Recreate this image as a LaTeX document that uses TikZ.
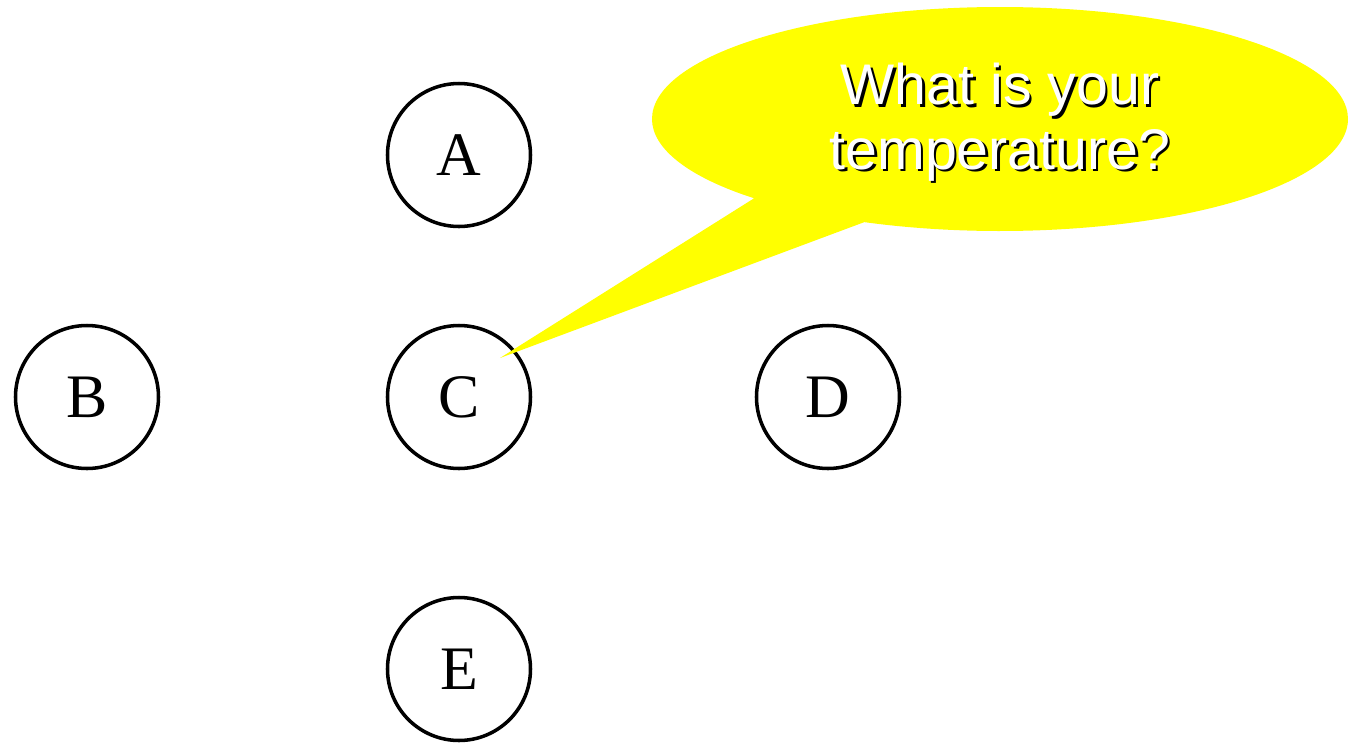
\documentclass[tikz,border=0pt]{standalone}
\usepackage{fontspec}
\setmainfont{Liberation Serif}
\newfontfamily\bubblefont{Liberation Sans}
\usetikzlibrary{calc,shapes.callouts}
\usepackage{xcolor}
\definecolor{bubbleyellow}{RGB}{255,255,0}

% white text with a small black drop shadow
\newcommand{\shadowtxt}[1]{%
  \makebox[0pt][l]{\kern0.7pt\raisebox{-0.7pt}{\color{black}#1}}{\color{white}#1}}

\tikzset{
  vertex/.style={draw, circle, line width=1pt, minimum size=1.43cm, inner sep=0pt,
    font=\fontsize{17.6}{20}\selectfont},
  talk/.style={ellipse callout, fill=bubbleyellow, draw=none, callout pointer arc=22,
    inner sep=0pt, align=center, font=\bubblefont\fontsize{16.3}{18.4}\selectfont}
}

\begin{document}
\begin{tikzpicture}
        \useasboundingbox (0,0) rectangle (13.61,-7.47);
        \node (c) [vertex] at (4.59,-3.97) {C};
        \node (a) [vertex, above of=c, node distance=2.42cm] {A};
        \node (b) [vertex, left of=c, node distance=3.72cm] {B};
        \node (d) [vertex, right of=c, node distance=3.69cm] {D};
        \node (e) [vertex, below of=c, node distance=2.72cm] {E};

        \node (bubble) [talk, minimum width=6.96cm, minimum height=2.24cm,
          callout absolute pointer={($(c)+(0.41,0.39)$)}] at (10.0,-1.19)
          {\rule{0pt}{14.3pt}\shadowtxt{What is your}\\\shadowtxt{temperature?}};
    \end{tikzpicture}
\end{document}
